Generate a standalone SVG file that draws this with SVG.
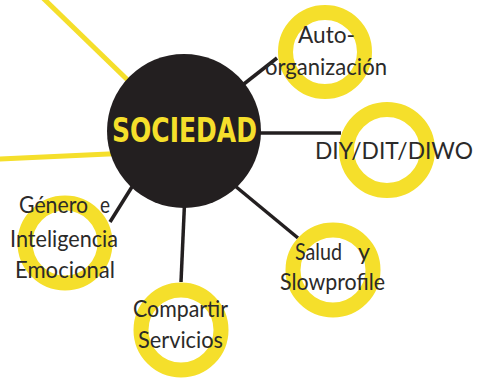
<svg xmlns="http://www.w3.org/2000/svg" width="483" height="382" viewBox="0 0 483 382">
<style>
.yl{stroke:#F5DF2B;stroke-width:5;fill:none}
.cn{stroke:#231F20;stroke-width:3.5;fill:none}
.ring{fill:none;stroke:#F5DF2B;stroke-width:15}
.lb{font-family:Lato,'Open Sans','Liberation Sans',sans-serif;font-size:23px;fill:#2B2A29;font-weight:normal}
.hub{font-family:'DejaVu Sans Condensed','DejaVu Sans',sans-serif;font-stretch:condensed;font-weight:bold;font-size:33px;fill:#F5DF2B}
</style>
<rect width="483" height="382" fill="#fff"/>
<g id="connectors">
<line class="yl" x1="43" y1="-2" x2="140" y2="92"/>
<line class="yl" x1="-2" y1="159" x2="130" y2="153"/>
<line class="cn" x1="184" y1="131" x2="277" y2="58"/>
<line class="cn" x1="184" y1="133" x2="341" y2="133"/>
<line class="cn" x1="200" y1="157" x2="298" y2="238"/>
<line class="cn" x1="186" y1="170" x2="181" y2="282"/>
<line class="cn" x1="150" y1="158" x2="110" y2="222"/>
</g>
<g id="sociedad">
<circle cx="184" cy="131" r="77" fill="#231F20"/>
<text class="hub" x="112" y="142" textLength="145" lengthAdjust="spacingAndGlyphs">SOCIEDAD</text>
</g>
<g id="auto">
<circle class="ring" cx="325" cy="52" r="39.5"/>
<text class="lb" x="298" y="43" textLength="57" lengthAdjust="spacingAndGlyphs">Auto-</text>
<text class="lb" x="265" y="75" textLength="122" lengthAdjust="spacingAndGlyphs">organización</text>
</g>
<g id="diy">
<circle class="ring" cx="387" cy="150" r="40.5"/>
<text class="lb" x="315" y="159" textLength="158" lengthAdjust="spacingAndGlyphs">DIY/DIT/DIWO</text>
</g>
<g id="salud">
<circle class="ring" cx="333" cy="270" r="40"/>
<text class="lb" x="295" y="260" textLength="47" lengthAdjust="spacingAndGlyphs">Salud</text>
<text class="lb" x="358" y="260" textLength="12" lengthAdjust="spacingAndGlyphs">y</text>
<text class="lb" x="280" y="290" textLength="105" lengthAdjust="spacingAndGlyphs">Slowprofile</text>
</g>
<g id="compartir">
<circle class="ring" cx="181" cy="330" r="40"/>
<text class="lb" x="133" y="317" textLength="95" lengthAdjust="spacingAndGlyphs">Compartir</text>
<text class="lb" x="138" y="348" textLength="85" lengthAdjust="spacingAndGlyphs">Servicios</text>
</g>
<g id="genero">
<circle class="ring" cx="65" cy="243" r="40"/>
<text class="lb" x="19" y="213" textLength="69" lengthAdjust="spacingAndGlyphs">Género</text>
<text class="lb" x="100" y="213" textLength="10" lengthAdjust="spacingAndGlyphs">e</text>
<text class="lb" x="10" y="247" textLength="108" lengthAdjust="spacingAndGlyphs">Inteligencia</text>
<text class="lb" x="15" y="278" textLength="100" lengthAdjust="spacingAndGlyphs">Emocional</text>
</g>
</svg>
